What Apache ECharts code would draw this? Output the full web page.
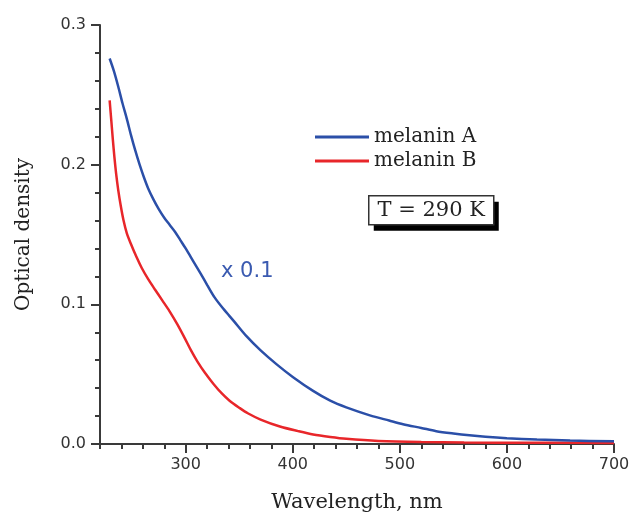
<!DOCTYPE html>
<html>
<head>
<meta charset="utf-8">
<script src="https://cdn.jsdelivr.net/npm/echarts@6/dist/echarts.min.js"></script>
<style>
  html, body { margin: 0; padding: 0; background: #fff; }
  #chart { width: 633px; height: 514px; }
</style>
</head>
<body>
<div id="chart"></div>
<script>
// wavelength (nm) / optical density
var wlA = [229, 233, 237, 241, 245, 249, 253, 257, 261, 265, 270, 275, 280, 285, 290, 295, 300, 307, 314, 320, 327, 335, 345, 357, 370, 385, 400, 419, 435, 450, 472, 490, 503, 520, 534, 550, 565, 580, 600, 628, 659, 700];
var odA = [0.276, 0.267, 0.256, 0.244, 0.233, 0.221, 0.210, 0.200, 0.191, 0.183, 0.175, 0.168, 0.162, 0.157, 0.152, 0.146, 0.140, 0.131, 0.122, 0.114, 0.105, 0.097, 0.088, 0.077, 0.067, 0.057, 0.048, 0.038, 0.031, 0.0262, 0.0205, 0.0168, 0.0142, 0.0115, 0.0092, 0.0075, 0.0062, 0.0052, 0.0042, 0.0032, 0.0025, 0.0019];

var wlB = [229, 230.5, 232, 233.5, 235, 237, 239.5, 242, 245, 249, 254, 259, 265, 271, 278, 285, 292, 299, 305, 311, 318, 326, 334, 341, 350, 358, 370, 388, 405, 419, 435, 450, 480, 520, 560, 620, 700];
var odB = [0.246, 0.232, 0.218, 0.205, 0.194, 0.182, 0.170, 0.160, 0.151, 0.143, 0.134, 0.126, 0.118, 0.111, 0.103, 0.095, 0.086, 0.076, 0.067, 0.059, 0.051, 0.043, 0.036, 0.031, 0.026, 0.022, 0.0175, 0.0125, 0.0092, 0.0068, 0.0050, 0.0037, 0.0022, 0.0014, 0.0011, 0.0009, 0.0008];

var seriesNames = ['melanin A', 'melanin B'];
var xTicks = [300, 400, 500, 600, 700];
var yTicks = [0, 0.1, 0.2, 0.3];

function pairs(xs, ys) {
    var out = [];
    for (var i = 0; i < xs.length; i++) out.push([xs[i], ys[i]]);
    return out;
}

var axisColor = '#3a3a3a';
var serif = 'DejaVu Serif';
var sans = 'DejaVu Sans';

var myChart = echarts.init(document.getElementById('chart'));
var option = {
    backgroundColor: '#fff',
    animation: false,
    title: {
        text: 'x 0.1',
        left: 221,
        top: 261,
        padding: 0,
        textStyle: { fontFamily: sans, fontWeight: 'normal', fontSize: 21, color: '#3a5ab0' }
    },
    // T = 290 K box with its offset black shadow
    graphic: [{
        type: 'group',
        left: 368,
        top: 195,
        children: [
            { type: 'rect', shape: { x: 5, y: 6, width: 125, height: 29 }, style: { fill: '#000' } },
            { type: 'rect', shape: { x: 0, y: 0, width: 125, height: 29 }, style: { fill: '#fff', stroke: '#333', lineWidth: 1.5 } },
            {
                type: 'text', x: 62.5, y: 15,
                style: { text: 'T = 290 K', font: '21px "DejaVu Serif"', fill: '#222', align: 'center', verticalAlign: 'middle' }
            }
        ]
    }],
    legend: {
        orient: 'vertical',
        left: 310,
        top: 122,
        icon: 'rect',
        itemWidth: 54,
        itemHeight: 3,
        itemGap: 4,
        data: seriesNames,
        textStyle: { fontFamily: serif, fontSize: 20, color: '#222' }
    },
    grid: { left: 100, right: 19, top: 25, bottom: 70, outerBoundsMode: 'none' },
    xAxis: [
        {
            type: 'value',
            min: 220,
            max: 700,
            name: 'Wavelength, nm',
            nameLocation: 'middle',
            nameGap: 48,
            nameTextStyle: { fontFamily: serif, fontSize: 21, color: '#222' },
            axisLine: { lineStyle: { color: axisColor, width: 2 } },
            axisTick: { customValues: xTicks, length: 9, lineStyle: { color: axisColor, width: 2 } },
            axisLabel: {
                customValues: xTicks,
                margin: 13,
                fontFamily: sans,
                fontSize: 16,
                color: '#333'
            },
            splitLine: { show: false }
        },
        {
            // minor ticks every 20 nm
            type: 'value',
            min: 220,
            max: 700,
            interval: 20,
            position: 'bottom',
            axisLine: { show: false },
            axisTick: { length: 5, lineStyle: { color: axisColor, width: 2 } },
            axisLabel: { show: false },
            splitLine: { show: false }
        }
    ],
    yAxis: {
        type: 'value',
        min: yTicks[0],
        max: yTicks[yTicks.length - 1],
        interval: 0.1,
        name: 'Optical density',
        nameLocation: 'middle',
        nameGap: 66,
        nameTextStyle: { fontFamily: serif, fontSize: 20, color: '#222' },
        axisLine: { show: true, lineStyle: { color: axisColor, width: 2 } },
        axisTick: { show: true, length: 9, lineStyle: { color: axisColor, width: 2 } },
        minorTick: { show: true, splitNumber: 5, length: 5, lineStyle: { color: axisColor, width: 2 } },
        axisLabel: {
            margin: 14,
            fontFamily: sans,
            fontSize: 16,
            color: '#333',
            formatter: function (v) { return v.toFixed(1); }
        },
        splitLine: { show: false },
        minorSplitLine: { show: false }
    },
    series: [
        {
            name: seriesNames[0],
            type: 'line',
            xAxisIndex: 0,
            data: pairs(wlA, odA),
            symbol: 'none',
            smooth: 0.3,
            lineStyle: { width: 2.5, color: '#2b4fa8' },
            itemStyle: { color: '#2b4fa8' },
            z: 3
        },
        {
            name: seriesNames[1],
            type: 'line',
            xAxisIndex: 0,
            data: pairs(wlB, odB),
            symbol: 'none',
            smooth: 0.3,
            lineStyle: { width: 2.5, color: '#e8262a' },
            itemStyle: { color: '#e8262a' },
            z: 2
        }
    ]
};
myChart.setOption(option);
</script>
</body>
</html>
